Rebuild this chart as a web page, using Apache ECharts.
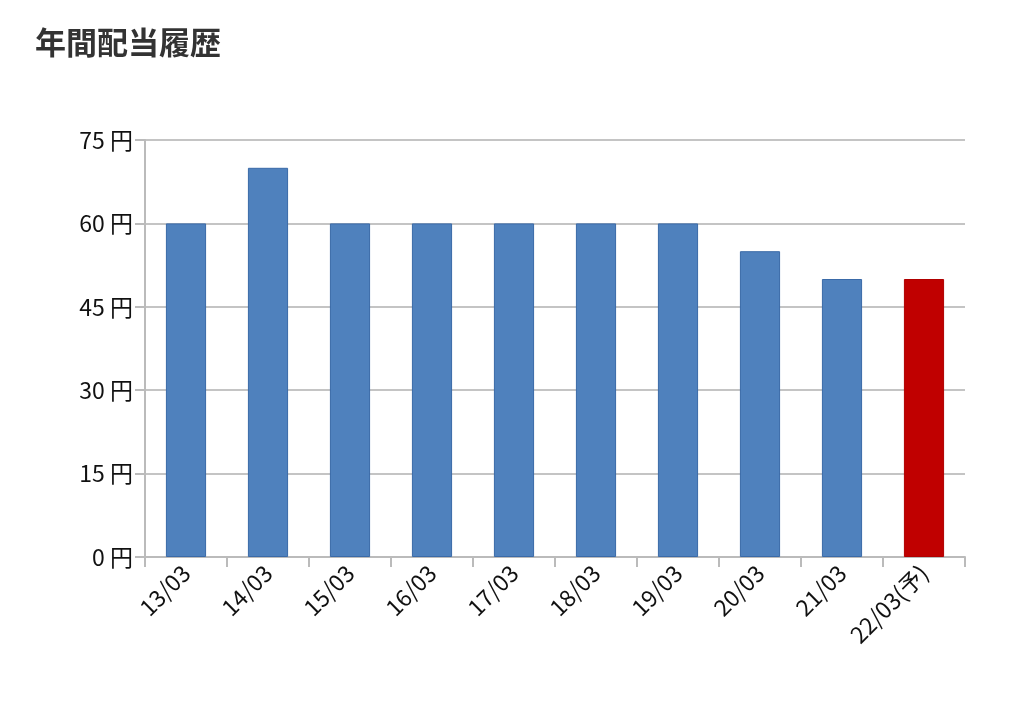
<!DOCTYPE html>
<html><head><meta charset="utf-8">
<script src="https://cdn.jsdelivr.net/npm/echarts@6/dist/echarts.min.js"></script>
<style>body{margin:0;background:#fff}#c{width:1024px;height:720px}</style>
</head><body><div id="c"></div>
<script>
const categories=["13/03","14/03","15/03","16/03","17/03","18/03","19/03","20/03","21/03","22/03(予)"];
const values=[60,70,60,60,60,60,60,55,50,50];
const forecastIndex=9;
const chart=echarts.init(document.getElementById('c'));
chart.setOption({
  title:{text:"年間配当履歴",left:30,top:22,textStyle:{fontSize:31,fontWeight:'bold',color:'#333',fontFamily:'Noto Sans CJK JP'}},
  grid:{left:145,right:59,top:140,bottom:163},
  xAxis:{type:'category',data:categories,
    axisLine:{lineStyle:{color:'#bbb',width:2}},
    axisTick:{show:true,alignWithLabel:false,length:10,lineStyle:{color:'#bbb',width:2}},
    axisLabel:{rotate:45,fontSize:23,color:'#111',fontFamily:'Noto Sans CJK JP',margin:12,interval:0}},
  yAxis:{type:'value',min:0,max:75,interval:15,
    axisLabel:{formatter:'{value} 円',fontSize:23,color:'#111',fontFamily:'Noto Sans CJK JP',margin:12},
    axisLine:{show:true,lineStyle:{color:'#bbb',width:2}},
    axisTick:{show:true,length:10,inside:false,lineStyle:{color:'#bbb',width:2}},
    splitLine:{lineStyle:{color:'#c4c4c4',width:2}}},
  series:[{type:'bar',barWidth:'49%',
    data:values.map((v,i)=>({value:v,itemStyle:{color:i===forecastIndex?'#c00000':'#4f81bd',borderColor:i===forecastIndex?'#b00000':'#3a6aa8',borderWidth:1}})),
    animation:false}]
});
</script></body></html>
